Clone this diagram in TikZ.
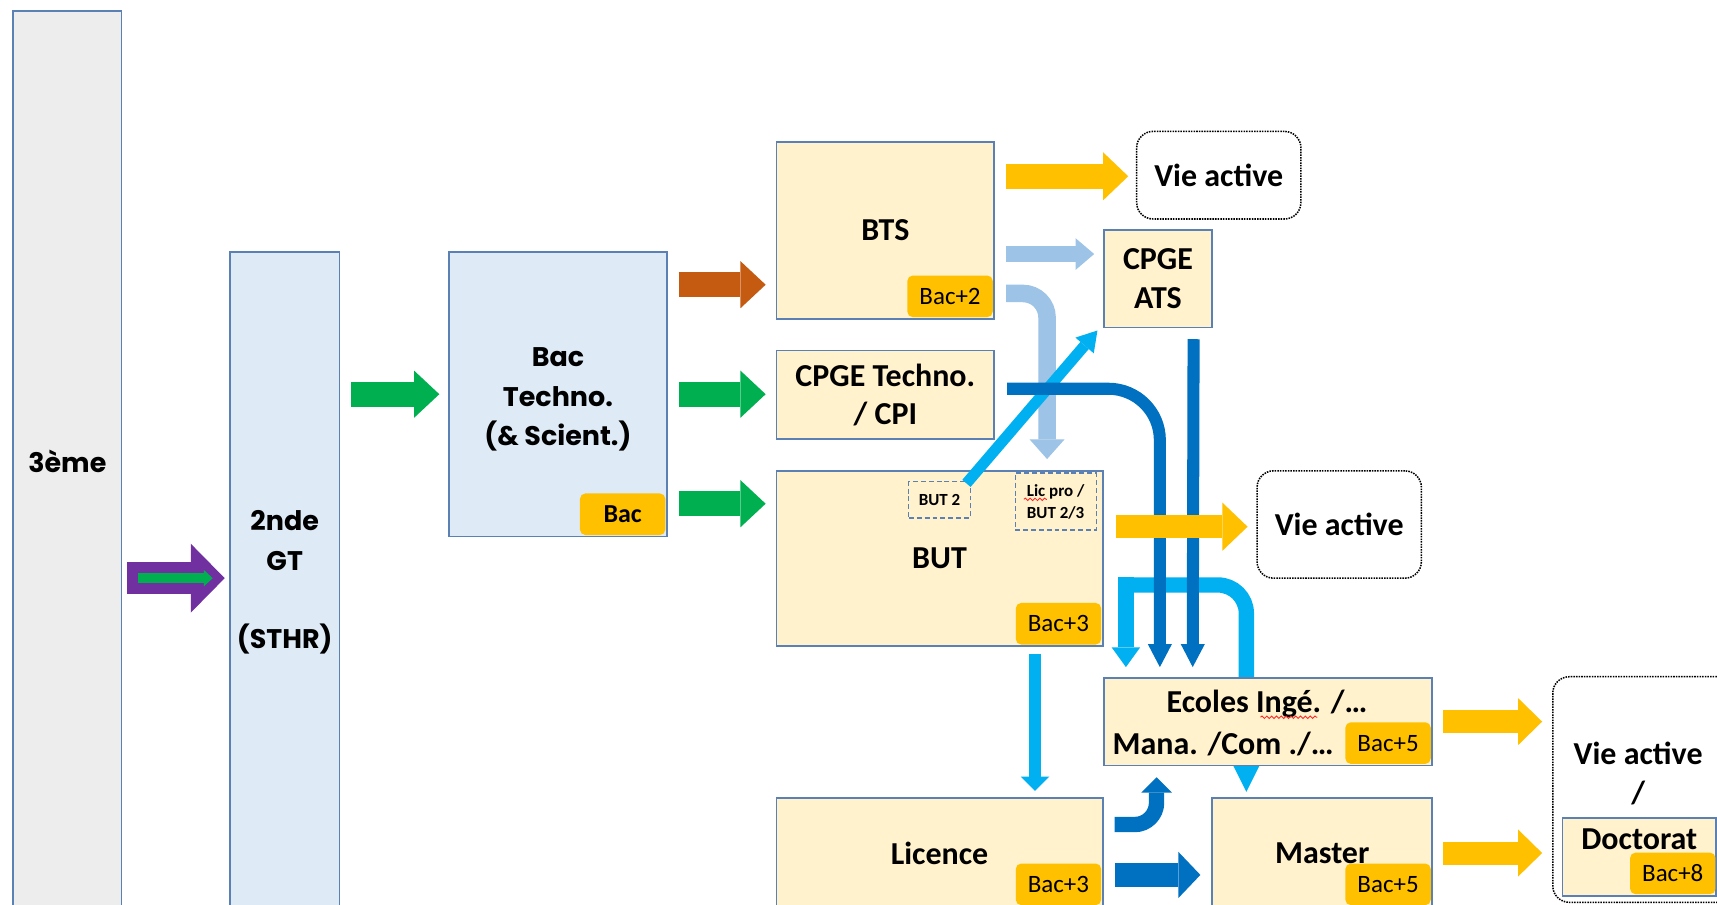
\documentclass[tikz,border=0pt]{standalone}
\usepackage{fontspec}
\setmainfont{Carlito}
\newfontfamily\lftfont{Poppins}
\usetikzlibrary{arrows.meta,calc,backgrounds,decorations.pathmorphing}

\definecolor{edge}{RGB}{91,128,180}
\definecolor{greyfill}{RGB}{237,237,237}
\definecolor{bluefill}{RGB}{222,235,247}
\definecolor{creamfill}{RGB}{255,242,204}
\definecolor{amber}{RGB}{255,192,0}
\definecolor{rust}{RGB}{197,90,17}
\definecolor{leaf}{RGB}{0,176,80}
\definecolor{plum}{RGB}{112,48,160}
\definecolor{paleblue}{RGB}{157,195,230}
\definecolor{skyblue}{RGB}{0,176,240}
\definecolor{deepblue}{RGB}{0,112,192}

\tikzset{
  framed/.style={draw=edge, line width=1.6pt, inner sep=0pt, align=center},
  lfttext/.style={inner sep=0pt, align=center, font=\lftfont\bfseries\fontsize{24.6}{36}\selectfont},
  greybox/.style={framed, fill=greyfill, lfttext},
  bluebox/.style={framed, fill=bluefill},
  creambox/.style={framed, fill=creamfill, font=\bfseries\fontsize{29.2}{35}\selectfont},
  outlet/.style={draw=black, densely dotted, line width=1.4pt, rounded corners=15pt,
    inner sep=0pt, align=center, font=\bfseries\fontsize{29.2}{35}\selectfont},
  badge/.style={fill=amber, rounded corners=5pt, minimum width=78pt, minimum height=38pt,
    inner sep=0pt, font=\fontsize{22.8}{26}\selectfont},
  subbox/.style={draw=edge, dash pattern=on 4.5pt off 2.7pt, line width=1.1pt, inner sep=0pt,
    align=center, font=\bfseries\fontsize{15.5}{20}\selectfont},
  txt/.style={inner sep=0pt, align=center, font=\bfseries\fontsize{29.2}{35}\selectfont},
  fat/.style args={#1/#2/#3/#4}{draw=#4, line width=#1pt,
    -{Triangle[length=#3pt, width=#2pt, line width=0pt 0 0]}},
  squiggle/.style={draw=red!85!white, line width=0.8pt, decorate,
    decoration={snake, segment length=4.4pt, amplitude=1.1pt}},
}

\begin{document}
\begin{tikzpicture}[x=1pt, y=-1pt]
\useasboundingbox (0,0) rectangle (1568,826);
\clip (0,0) rectangle (1568,826);

% ---- school stages ----
\node[greybox, minimum width=99pt, minimum height=822pt] (g3) at (61.5,421) {3ème};
\node[bluebox, minimum width=100pt, minimum height=598pt,
  label={[lfttext, yshift=-3pt]center:2nde\\GT\\[36pt](STHR)}] (sec) at (260,529) {};
\node[bluebox, minimum width=199pt, minimum height=260pt,
  label={[lfttext, yshift=-5pt]center:Bac\\Techno.\\(\& Scient.)}] (bac) at (509.5,360) {};
\node[badge, anchor=south east, font=\bfseries\fontsize{23.7}{26}\selectfont] (bacb) at ([shift={(-2,-2)}]bac.south east) {Bac};

% ---- first cycle ----
\node[creambox, minimum width=199pt, minimum height=161pt] (bts) at (808.5,210.5) {BTS};
\node[badge, anchor=south east] (btsb) at ([shift={(-2,-2)}]bts.south east) {Bac+2};
\node[creambox, minimum width=199pt, minimum height=81pt] (cpgt) at (808.5,360.5) {CPGE Techno.\\/ CPI};
\node[creambox, minimum width=298pt, minimum height=160pt] (but) at (858,510) {BUT};
\node[badge, anchor=south east] (butb) at ([shift={(-2,-2)}]but.south east) {Bac+3};
\node[subbox, minimum width=56pt, minimum height=33pt] (but2) at (858,456.5) {BUT 2};
\node[subbox, minimum width=74pt, minimum height=52pt] (lp) at (964,458) {Lic pro /\\BUT 2/3};
\draw[squiggle] ([shift={(-29,-2)}]lp.center) -- ([shift={(-8,-2)}]lp.center);
\node[creambox, minimum width=298pt, minimum height=100pt] (lic) at (858,779) {Licence};
\node[badge, anchor=south east] (licb) at ([shift={(-2,-3)}]lic.south east) {Bac+3};

% ---- second cycle ----
\node[creambox, minimum width=99pt, minimum height=89pt] (ats) at (1057.5,254.5) {CPGE\\ATS};
\node[creambox, minimum width=300pt, minimum height=80pt] (eco) at (1158,659) {};
\node[txt] (eco1) at (1157,643) {Ecoles Ingé. /…};
\node[txt] (eco2) at (1117,679) {Mana. /Com ./…};
\draw[squiggle] ([shift={(86,12)}]eco1.west) -- ([shift={(138,12)}]eco1.west);
\node[badge, anchor=south east] (ecob) at ([shift={(-2,-2)}]eco.south east) {Bac+5};
\node[creambox, minimum width=201pt, minimum height=100pt] (mas) at (1207.5,779) {Master};
\node[badge, anchor=south east] (masb) at ([shift={(-2,-3)}]mas.south east) {Bac+5};

% ---- exits ----
\node[outlet, minimum width=150pt, minimum height=80pt] (vie1) at (1113,160) {Vie active};
\node[outlet, minimum width=150pt, minimum height=98pt] (vie2) at (1223,479) {Vie active};
\node[outlet, minimum width=172pt, minimum height=206pt] (vie3) at (1504,721) {};
\node[txt] (vie3t) at (1496,706.5) {Vie active\\/};
\node[creambox, minimum width=140pt, minimum height=71pt] (doc) at (1497,782.5) {};
\node[txt] (doct) at ([shift={(0,20)}]doc.north) {Doctorat};
\node[badge, anchor=south east] (docb) at ([shift={(-1,-2)}]doc.south east) {Bac+8};

% ---- links running behind the boxes ----
\begin{pgfonlayer}{background}
  \fill[white] (0,0) rectangle (1568,826);
  \draw[fat=14/26/18/skyblue] ([shift={(21,-91)}]eco.north west) -- ([shift={(21,-9)}]eco.north west);
  \draw[fat=14/24/24/skyblue, rounded corners=26pt]
    ([shift={(14,-84)}]eco.north west) -| ([shift={(32,-5)}]mas.north west);
\end{pgfonlayer}

% ---- arrows ----
\draw[fat=29/63/31/plum] ([shift={(4,107)}]g3.east) -- ([shift={(-4,-1)}]sec.west);
\draw[fat=9/15/8/leaf] ([shift={(14,107)}]g3.east) -- ([shift={(-15,-1)}]sec.west);
\draw[fat=23/43/23/leaf] ([shift={(10,-169)}]sec.east) -- ([shift={(-8,0)}]bac.west);

\draw[fat=23/43/23/rust] ([shift={(10,-100)}]bac.east) -- ([shift={(-9,49.5)}]bts.west);
\draw[fat=23/43/23/leaf] ([shift={(10,0)}]bac.east) -- ([shift={(-9,-0.5)}]cpgt.west);
\draw[fat=23/43/23/leaf] ([shift={(10,100)}]bac.east) -- ([shift={(-9,-50)}]but.west);

\draw[fat=16/32/18/paleblue, rounded corners=22pt]
  ([shift={(10,57.5)}]bts.east) -| ([shift={(248,-10)}]but.north west);
\draw[fat=14/29/17/paleblue] ([shift={(10,21.5)}]bts.east) -- ([shift={(-8,-22.5)}]ats.west);
\draw[fat=10/22/18/skyblue] ([shift={(-4,2)}]but2.north east) -- ([shift={(-5,2)}]ats.south west);
\draw[fat=11/22/21/deepblue, rounded corners=47pt]
  ([shift={(11,-5.5)}]cpgt.east) -| ([shift={(52,-9)}]eco.north west);
\draw[fat=11/22/21/deepblue] ([shift={(32.5,10)}]ats.south) -- ([shift={(82,-9)}]eco.north west);

\draw[fat=23/44/23/amber] ([shift={(10,-49.5)}]bts.east) -- ([shift={(-7,1)}]vie1.west);
\draw[fat=21/44/23/amber] ([shift={(11,-29)}]but.east) -- ([shift={(-8,2)}]vie2.west);
\draw[fat=11/26/13/skyblue] ([shift={(237,6)}]but.south west) -- ([shift={(237,-6)}]lic.north west);

\draw[fat=14/28/14/deepblue, rounded corners=20pt]
  ([shift={(10,-26)}]lic.east) -| ([shift={(49,10)}]eco.south west);
\draw[fat=22/42/20/deepblue] ([shift={(10,20)}]lic.east) -- ([shift={(-10,20)}]mas.west);

\draw[fat=21/43/22/amber] ([shift={(9,0)}]eco.east) -- ([shift={(-9,-62)}]vie3.west);
\draw[fat=21/43/22/amber] ([shift={(9,0)}]mas.east) -- ([shift={(-9,58)}]vie3.west);
\end{tikzpicture}
\end{document}
